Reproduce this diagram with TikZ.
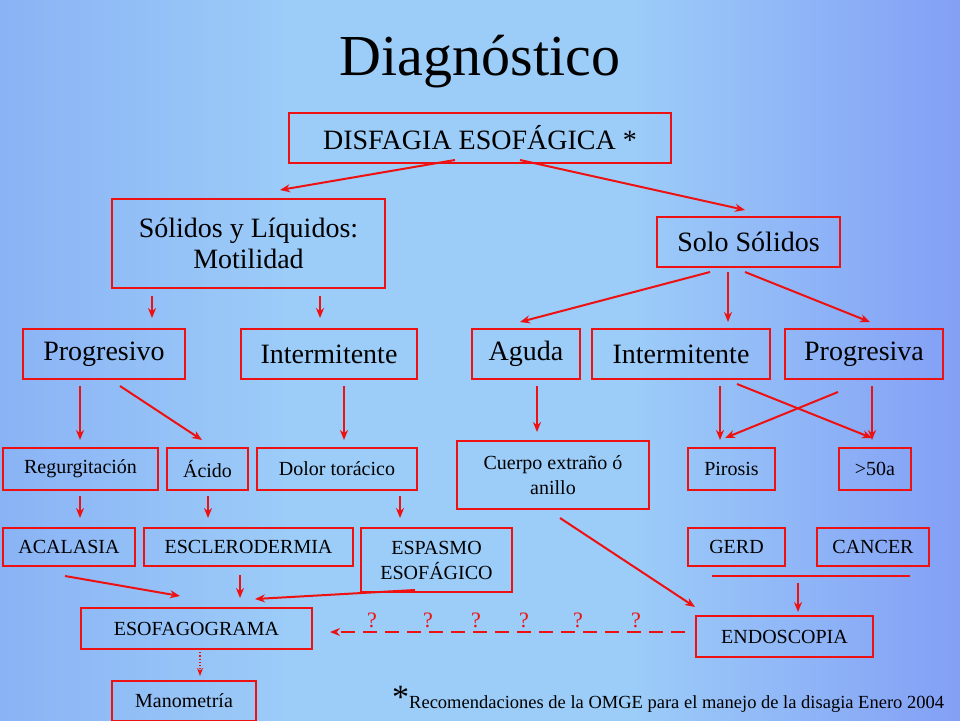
\documentclass[tikz,border=0pt]{standalone}
\usepackage{fontspec}
\setmainfont{LiberationSerif}[Extension=.ttf,UprightFont=*-Regular]
\usetikzlibrary{arrows.meta}
\definecolor{rd}{HTML}{EE1111}
\definecolor{bgL}{HTML}{6C88F0}
\definecolor{bgM}{HTML}{9CCCF8}
\definecolor{bgR}{HTML}{5E5EF2}
\pgfdeclarehorizontalshading{bgsh}{100bp}{color(0bp)=(bgL); color(40bp)=(bgM); color(58bp)=(bgM); color(100bp)=(bgR)}
\begin{document}
\begin{tikzpicture}[x=1pt,y=-1pt,
 bx/.style={draw=rd,line width=2pt,anchor=north west,inner sep=0pt,align=center},
 big/.style={font=\fontsize{28}{31}\selectfont},
 sm/.style={font=\fontsize{20}{25}\selectfont},
 ar/.style={draw=rd,line width=2pt,-{Stealth[length=10pt,width=8pt]}}]
\useasboundingbox (0,0) rectangle (960,720);
\shade[shading=bgsh] (0,0) rectangle (960,720);
\node[font=\fontsize{58}{62}\selectfont] (t) at (480,62) {Diagnóstico};
\newcommand\bnode[5]{\node[bx,minimum width=#4-#2,minimum height=#5-#3] (#1) at (#2,#3) {};}
\bnode{dis}{288}{112}{670}{162} \node[big] at (dis.center) {DISFAGIA ESOFÁGICA *};
\bnode{sl}{111}{198}{384}{287} \node[big,align=center] at (sl.center) {Sólidos y Líquidos:\\Motilidad};
\bnode{ss}{656}{216}{839}{266} \node[big] at (ss.center) {Solo Sólidos};
\bnode{p1}{22}{328}{184}{378} \node[big] at (p1.center) {Progresivo};
\bnode{i1}{240}{328}{416}{378} \node[big] at (i1.center) {Intermitente};
\bnode{ag}{471}{328}{579}{378} \node[big] at (ag.center) {Aguda};
\bnode{i2}{591}{328}{769}{378} \node[big] at (i2.center) {Intermitente};
\bnode{p2}{784}{328}{942}{378} \node[big] at (p2.center) {Progresiva};
\bnode{re}{2}{447}{157}{489} \node[sm] at (re.center) {Regurgitación};
\bnode{ac}{166}{447}{247}{489} \node[sm] at (ac.center) {Ácido};
\bnode{do}{256}{447}{416}{489} \node[sm] at (do.center) {Dolor torácico};
\bnode{cu}{456}{440}{648}{508} \node[sm,align=center] at (cu.center) {Cuerpo extraño ó\\anillo};
\bnode{pi}{687}{447}{774}{489} \node[sm] at (pi.center) {Pirosis};
\bnode{fi}{838}{447}{910}{489} \node[sm] at (fi.center) {>50a};
\bnode{aca}{2}{527}{134}{565} \node[sm] at (aca.center) {ACALASIA};
\bnode{esc}{143}{527}{352}{565} \node[sm] at (esc.center) {ESCLERODERMIA};
\bnode{esp}{360}{527}{511}{591} \node[sm,align=center] at (esp.center) {ESPASMO\\ESOFÁGICO};
\bnode{ge}{687}{527}{784}{565} \node[sm] at (ge.center) {GERD};
\bnode{ca}{816}{527}{928}{565} \node[sm] at (ca.center) {CANCER};
\bnode{eg}{80}{607}{311}{648} \node[sm] at (eg.center) {ESOFAGOGRAMA};
\bnode{en}{695}{615}{872}{656} \node[sm] at (en.center) {ENDOSCOPIA};
\bnode{ma}{111}{680}{255}{720} \node[sm] at (ma.center) {Manometría};
\coordinate (l1) at (712,576); \coordinate (l2) at (910,576);
\draw[draw=rd,line width=2pt] (l1) -- (l2);
\draw[ar] (455,160) -- (280,190);
\draw[ar] (520,160) -- (745,210);
\draw[ar] (152,296) -- (152,318);
\draw[ar] (320,296) -- (320,318);
\draw[ar] (710,272) -- (520,322);
\draw[ar] (728,272) -- (728,322);
\draw[ar] (745,272) -- (870,322);
\draw[ar] (80,386) -- (80,440);
\draw[ar] (120,386) -- (202,440);
\draw[ar] (344,386) -- (344,440);
\draw[ar] (537,386) -- (537,432);
\draw[ar] (720,386) -- (720,440);
\draw[ar] (737,384) -- (872,438);
\draw[ar] (838,392) -- (725,438);
\draw[ar] (872,386) -- (872,440);
\draw[ar] (80,496) -- (80,518);
\draw[ar] (208,496) -- (208,518);
\draw[ar] (400,496) -- (400,518);
\draw[ar] (560,518) -- (695,607);
\draw[ar] (65,576) -- (180,596);
\draw[ar] (240,575) -- (240,598);
\draw[ar] (415,590) -- (255,599);
\draw[ar] (798,583) -- (798,612);
\draw[ar,dash pattern=on 14pt off 8pt] (685,632) -- (330,632);
\foreach \x in {372,428,476,524,578,636} \node[text=rd,font=\fontsize{22}{24}\selectfont] at (\x,620) {?};
\draw[draw=rd,line width=1.2pt,dotted,-{Stealth[length=8pt,width=6pt]}] (200,649) -- (200,676);
\node[anchor=base west,inner sep=0pt] (fn) at (392,708) {\fontsize{34}{34}\selectfont *\fontsize{18.5}{19}\selectfont Recomendaciones de la OMGE para el manejo de la disagia Enero 2004};
\end{tikzpicture}
\end{document}
